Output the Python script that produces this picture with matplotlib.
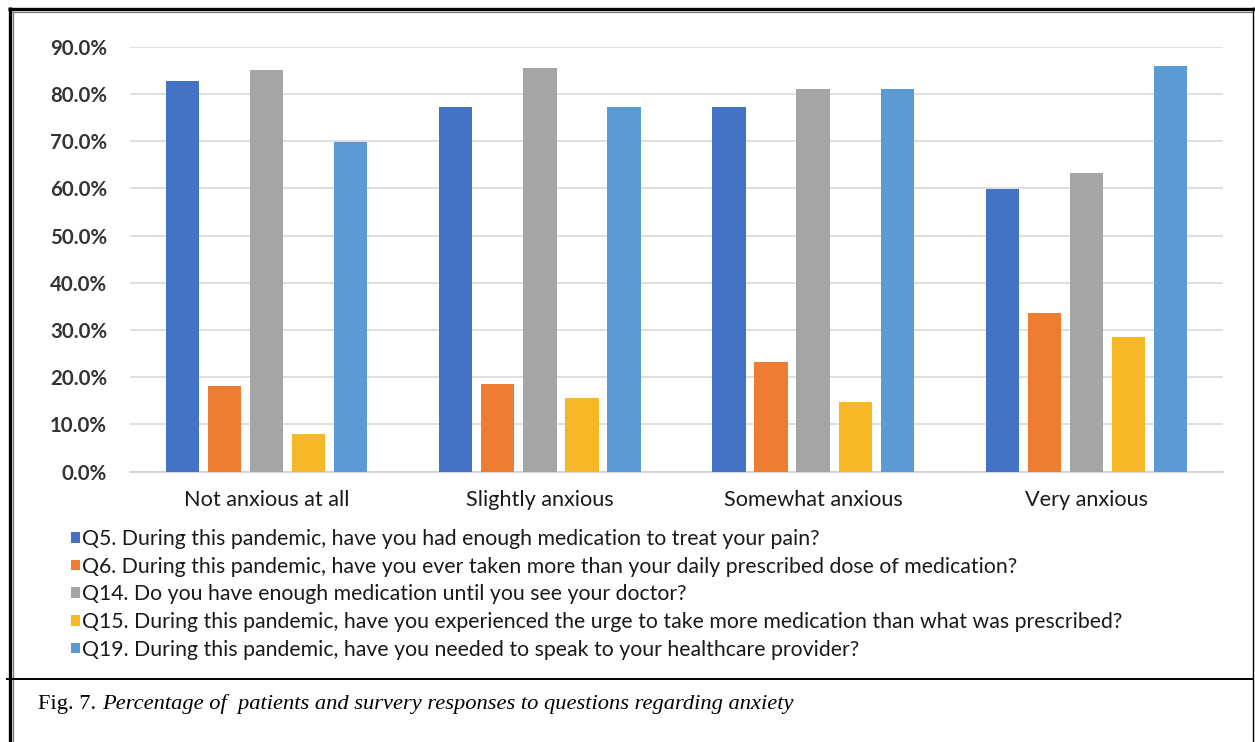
import numpy as np
import matplotlib
matplotlib.use("Agg")
import matplotlib.pyplot as plt
from matplotlib.lines import Line2D
from matplotlib.ticker import PercentFormatter

# ---- data -----------------------------------------------------------------
categories = ["Not anxious at all", "Slightly anxious", "Somewhat anxious", "Very anxious"]
questions = [
    "Q5. During this pandemic, have you had enough medication to treat your pain?",
    "Q6. During this pandemic, have you ever taken more than your daily prescribed dose of medication?",
    "Q14. Do you have enough medication until you see your doctor?",
    "Q15. During this pandemic, have you experienced the urge to take more medication than what was prescribed?",
    "Q19. During this pandemic, have you needed to speak to your healthcare provider?",
]
q5 = [82.7, 77.3, 77.3, 59.8]
q6 = [18.2, 18.5, 23.2, 33.6]
q14 = [85.1, 85.5, 81.0, 63.2]
q15 = [7.9, 15.7, 14.8, 28.5]
q19 = [69.9, 77.3, 81.0, 86.0]
series = [q5, q6, q14, q15, q19]
colors = ["#4472C4", "#ED7D31", "#A5A5A5", "#F6B826", "#5B9BD5"]
y_ticks = [0, 10, 20, 30, 40, 50, 60, 70, 80, 90]
caption_lead = "Fig. 7."
caption_body = "Percentage of  patients and survery responses to questions regarding anxiety"

# ---- figure ---------------------------------------------------------------
W, H = 1255, 742
fig = plt.figure(figsize=(W / 100, H / 100), dpi=100)
fig.patch.set_facecolor("white")

def fx(px):
    return px / W

def fy(py):
    return 1 - py / H

ax = fig.add_axes([fx(130), fy(471.7), fx(1223) - fx(130), fy(46.7) - fy(471.7)])
ax.set_facecolor("white")

x = np.arange(len(categories))
step, width = 0.154, 0.122
bars = []
for i, (vals, col) in enumerate(zip(series, colors)):
    b = ax.bar(x + (i - 2) * step, vals, width=width, color=col, zorder=3)
    bars.append(b)

ax.set_xlim(-0.5, len(categories) - 0.5)
ax.set_ylim(0, 90)
ax.set_yticks(y_ticks)
ax.yaxis.set_major_formatter(PercentFormatter(decimals=1))
ax.grid(axis="y", color="#d9d9d9", lw=1.2, zorder=0)
for s in ["top", "right", "left"]:
    ax.spines[s].set_visible(False)
ax.spines["bottom"].set_color("#d0d0d0")
ax.spines["bottom"].set_linewidth(1.2)
ax.tick_params(axis="both", length=0)
ax.tick_params(axis="y", pad=16.5)
ax.tick_params(axis="x", pad=13)
ax.set_xticks(x)
ax.set_xticklabels(categories)
for lab in ax.get_yticklabels():
    lab.set_fontfamily("Lato")
    lab.set_fontsize(14.7)
    lab.set_color("#333333")
    lab.set_fontweight("bold")
for lab in ax.get_xticklabels():
    lab.set_fontfamily("Lato")
    lab.set_fontsize(15.6)
    lab.set_color("#1a1a1a")

leg = fig.legend(
    [b[0] for b in bars], questions,
    loc="upper left", bbox_to_anchor=(fx(71), fy(529)),
    frameon=False, prop={"family": "Lato", "size": 15.3},
    handlelength=0.4, handleheight=0.4, handletextpad=0.1,
    labelspacing=0.36, borderaxespad=0, borderpad=0,
)
for t in leg.get_texts():
    t.set_color("#1a1a1a")

# ---- frame lines ----------------------------------------------------------
def hline(y, x0, x1, lw, color="black"):
    fig.add_artist(Line2D([fx(x0), fx(x1)], [fy(y), fy(y)], transform=fig.transFigure,
                          color=color, lw=lw, solid_capstyle="butt"))

def vline(xp, y0, y1, lw, color="black"):
    fig.add_artist(Line2D([fx(xp), fx(xp)], [fy(y0), fy(y1)], transform=fig.transFigure,
                          color=color, lw=lw, solid_capstyle="butt"))

hline(8.5, 8, 1255, 2.4)
vline(9.5, 7, 742, 2.4)
vline(12.5, 11, 742, 0.9, "#777777")
hline(11.5, 12, 1252, 0.9, "#777777")
vline(1253, 7, 742, 1.0)
hline(678.5, 6, 1253, 1.4)

# ---- caption --------------------------------------------------------------
cap_y = fy(704)
t1 = fig.text(fx(38), cap_y, caption_lead, family="Liberation Serif", size=16.2,
              va="center", ha="left", color="black")
fig.canvas.draw()
bb = t1.get_window_extent()
fig.text(bb.x1 / W + fx(6), cap_y, caption_body, family="Liberation Serif", size=16.2,
         style="italic", va="center", ha="left", color="black")

fig.savefig("out.png", dpi=100, facecolor="white")
